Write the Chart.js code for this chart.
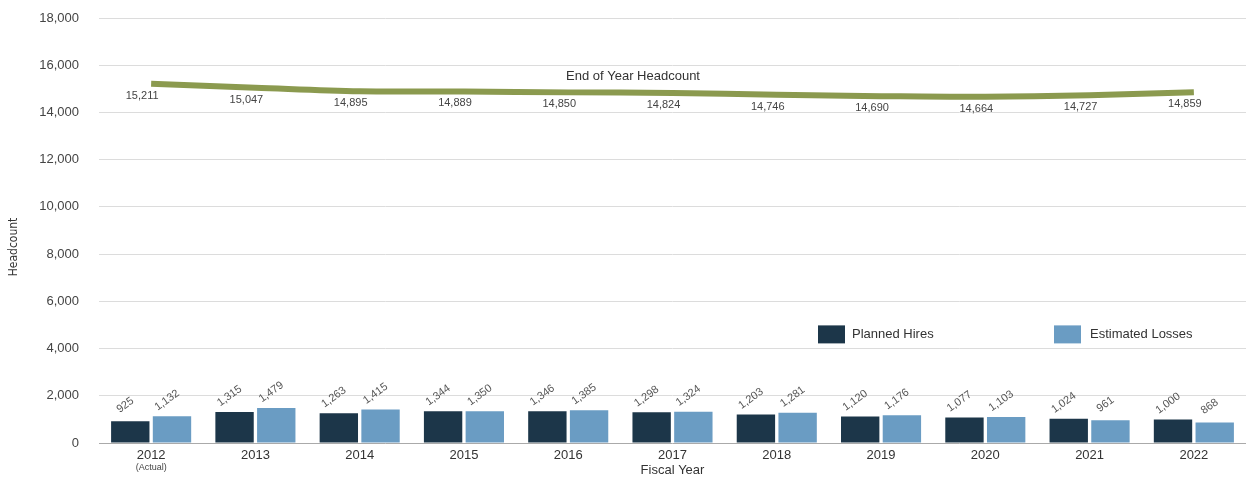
<!DOCTYPE html>
<html>
<head>
<meta charset="utf-8">
<script src="https://cdn.jsdelivr.net/npm/chart.js@4"></script>
<style>
  html, body { margin: 0; padding: 0; background: #fff; }
  #wrap { width: 1246px; height: 483px; }
</style>
</head>
<body>
<div id="wrap"><canvas id="myChart" width="1246" height="483"></canvas></div>
<script>
'use strict'

// chart data
const years = ['2012', '2013', '2014', '2015', '2016', '2017', '2018', '2019', '2020', '2021', '2022'];
const plannedHires = [925, 1315, 1263, 1344, 1346, 1298, 1203, 1120, 1077, 1024, 1000];
const estimatedLosses = [1132, 1479, 1415, 1350, 1385, 1324, 1281, 1176, 1103, 961, 868];
const headcount = [15211, 15047, 14895, 14889, 14850, 14824, 14746, 14690, 14664, 14727, 14859];
const yTicks = [0, 2000, 4000, 6000, 8000, 10000, 12000, 14000, 16000, 18000];

const darkBlue = '#1c3649';
const lightBlue = '#6a9cc3';
const olive = '#8b9a4f';
const font = '"Liberation Sans", Arial, sans-serif';

function fmt(n) {
  return n.toLocaleString('en-US');
}

// draws value labels, legend and extra texts
const labelsPlugin = {
  id: 'labelsPlugin',
  afterDatasetsDraw(chart) {
    const ctx = chart.ctx;
    ctx.save();
    ctx.fillStyle = '#555';
    ctx.font = '11px ' + font;
    ctx.textAlign = 'center';
    ctx.textBaseline = 'middle';

    // bar labels, rotated
    [0, 1].forEach(function (di) {
      const meta = chart.getDatasetMeta(di);
      meta.data.forEach(function (bar, i) {
        const v = chart.data.datasets[di].data[i];
        ctx.save();
        ctx.translate(bar.x - 5, bar.y - 16);
        ctx.rotate(-36 * Math.PI / 180);
        ctx.fillText(fmt(v), 0, 0);
        ctx.restore();
      });
    });

    // line labels under points
    ctx.font = '11px ' + font;
    ctx.fillStyle = '#444';
    const lineMeta = chart.getDatasetMeta(2);
    lineMeta.data.forEach(function (pt, i) {
      ctx.fillText(fmt(headcount[i]), pt.x - 9, pt.y + 12);
    });

    ctx.font = '13px ' + font;
    ctx.fillStyle = '#333';
    ctx.fillText('End of Year Headcount', 633, 76);

    // legend
    const ys = chart.scales.y;
    const ly = ys.getPixelForValue(4600);
    ctx.fillStyle = darkBlue;
    ctx.fillRect(818, ly - 9, 27, 18);
    ctx.fillStyle = lightBlue;
    ctx.fillRect(1054, ly - 9, 27, 18);
    ctx.fillStyle = '#333';
    ctx.textAlign = 'left';
    ctx.fillText('Planned Hires', 852, ly);
    ctx.fillText('Estimated Losses', 1090, ly);

    // (Actual) under 2012
    ctx.textAlign = 'center';
    ctx.font = '9px ' + font;
    ctx.fillStyle = '#444';
    const xs = chart.scales.x;
    ctx.fillText('(Actual)', xs.getPixelForValue(0), 468);

    // y title
    ctx.save();
    ctx.translate(14, 247);
    ctx.rotate(-Math.PI / 2);
    ctx.font = '12px "Liberation Sans Narrow", "DejaVu Sans Condensed", sans-serif';
    ctx.fillStyle = '#333';
    ctx.fillText('Headcount', 0, 0);
    ctx.restore();

    ctx.restore();
  }
};

const data = {
  labels: years,
  datasets: [{
    type: 'bar',
    label: 'Planned Hires',
    data: plannedHires,
    backgroundColor: darkBlue,
    categoryPercentage: 0.8,
    barPercentage: 0.92,
    order: 2
  },
  {
    type: 'bar',
    label: 'Estimated Losses',
    data: estimatedLosses,
    backgroundColor: lightBlue,
    categoryPercentage: 0.8,
    barPercentage: 0.92,
    order: 2
  },
  {
    type: 'line',
    label: 'End of Year Headcount',
    data: headcount,
    borderColor: olive,
    borderWidth: 6,
    pointRadius: 0,
    tension: 0.35,
    order: 1
  }]
};

const config = {
  data: data,
  options: {
    responsive: false,
    animation: false,
    layout: { padding: { top: 18, right: 0, left: 0, bottom: 0 } },
    plugins: {
      legend: { display: false },
      tooltip: { enabled: false }
    },
    scales: {
      x: {
        grid: { display: false, drawTicks: false },
        border: { display: false },
        ticks: { color: '#333', font: { size: 13, family: font }, padding: 5, maxRotation: 0 },
        title: { display: true, text: 'Fiscal Year', color: '#333', font: { size: 13, family: font }, padding: { top: 0, bottom: 5 } },
        afterFit(s) { s.height = 40; s.paddingLeft = 0; s.paddingRight = 0; }
      },
      y: {
        min: 0,
        max: 18000,
        afterBuildTicks(s) { s.ticks = yTicks.map(function (v) { return { value: v }; }); },
        grid: {
          color(c) { return c.tick && c.tick.value === 0 ? '#aaaaaa' : '#dcdcdc'; },
          drawTicks: false
        },
        border: { display: false },
        ticks: {
          color: '#444',
          font: { size: 13, family: font },
          padding: 20,
          callback(v) { return fmt(v); }
        },
        afterFit(s) { s.width = 99; s.paddingTop = 0; s.paddingBottom = 0; }
      }
    }
  },
  plugins: [labelsPlugin]
};

const canvasChart = document.getElementById('myChart');
const myChart = new Chart(canvasChart, config);
</script>
</body>
</html>
